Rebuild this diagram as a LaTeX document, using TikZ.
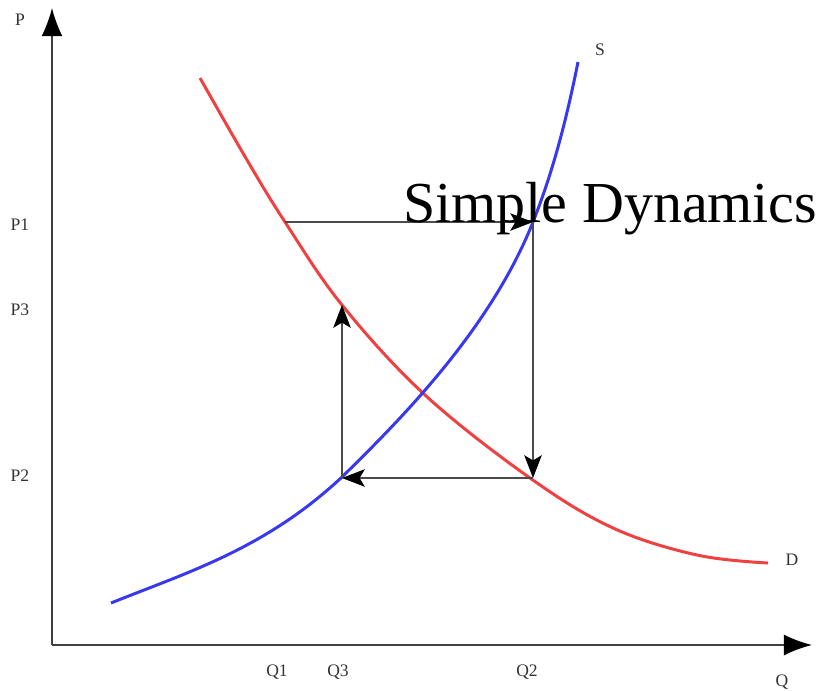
\documentclass[tikz,border=0pt]{standalone}
\usepackage{fontspec}
\setmainfont{Liberation Serif}
\usepackage{tikz}
\usetikzlibrary{arrows.meta}

\definecolor{demand}{RGB}{240,64,64}
\definecolor{supply}{RGB}{56,56,240}

\begin{document}
\begin{tikzpicture}[x=0.02cm, y=-0.02cm,
    axis/.style={draw=black!75, line width=1.1pt, -{Latex[length=16pt, width=12pt, color=black]}},
    curve/.style={line width=1.7pt},
    path/.style={draw=black!70, line width=0.6pt, -{Stealth[length=13pt, width=10pt, inset=3pt, color=black]}},
    lab/.style={font=\fontsize{10}{12}\selectfont, text=black!80}]
    \useasboundingbox (0,0) rectangle (821,690);

    % axes
    \coordinate (o) at (52,645);
    \coordinate (ptop) at (52,8);
    \coordinate (qend) at (812,645);
    \draw[axis] (o) -- (ptop);
    \draw[axis] (o) -- (qend);

    % cobweb points
    \coordinate (a) at (285,222);
    \coordinate (b) at (533,222);
    \coordinate (c) at (533,478);
    \coordinate (d) at (342,478);
    \coordinate (e) at (342,305);

    % curves
    \draw[curve, demand] plot[smooth, tension=0.6] coordinates
        {(200,78) (247,160) (285,222) (342,305) (425,395) (530,478) (613,528) (697,555) (768,563)};
    \draw[curve, supply] (111,603) .. controls (188,572) and (265,549) .. (342,477)
        .. controls (400,420) and (490,330) .. (533,222)
        .. controls (548,184) and (563,137) .. (578,62);

    \draw[path] (a) -- (b);
    \draw[path] (b) -- (c);
    \draw[path] (c) -- (d);
    \draw[path] (d) -- (e);

    % labels
    \node[lab] (p) at (20,20) {P};
    \node[lab] (q) at (782,682) {Q};
    \node[lab] (p1) at (20,225) {P1};
    \node[lab] (p3) at (20,310) {P3};
    \node[lab] (p2) at (20,476) {P2};
    \node[lab] (q1) at (277,672) {Q1};
    \node[lab] (q3) at (338,672) {Q3};
    \node[lab] (q2) at (527,672) {Q2};
    \node[lab] (s) at (600,50) {S};
    \node[lab] (dd) at (792,560) {D};

    \node[anchor=base west, inner sep=0pt, font=\fontsize{33}{40}\selectfont] (title) at (403,222) {Simple Dynamics};
\end{tikzpicture}
\end{document}
